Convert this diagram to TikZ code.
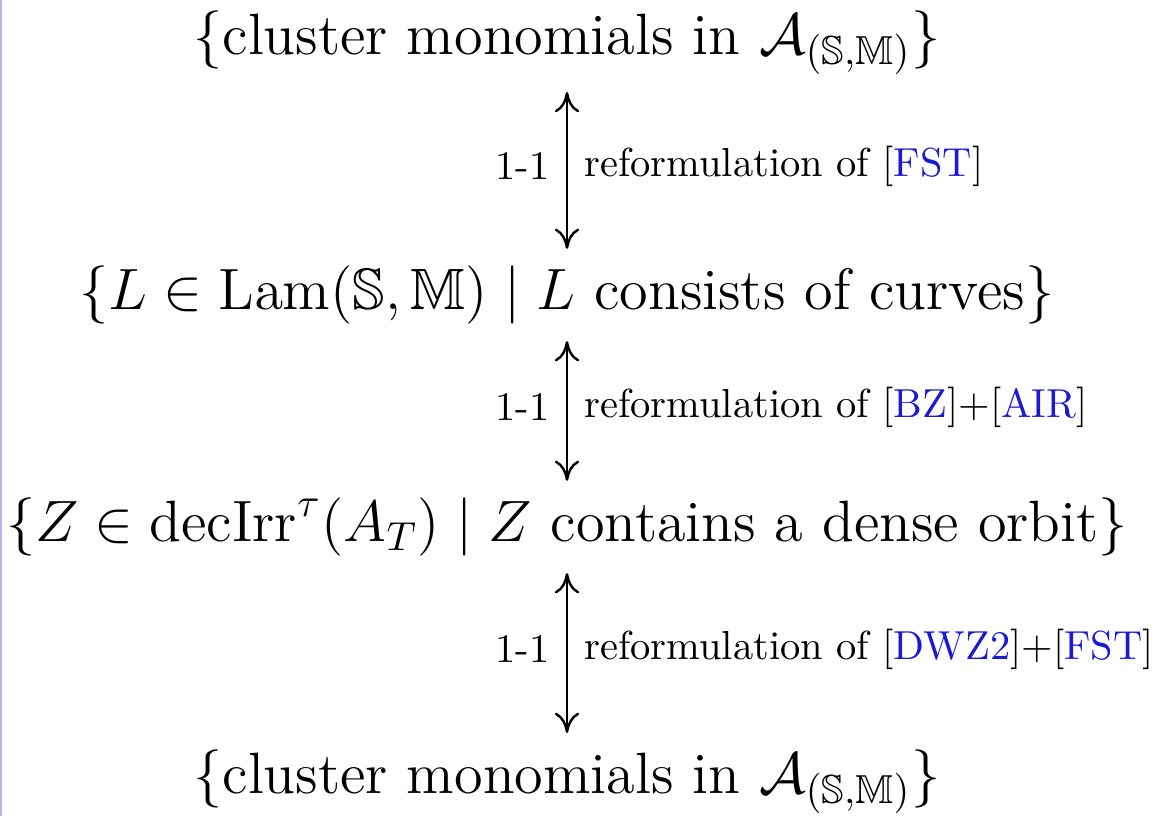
\documentclass[tikz,border=0pt]{standalone}
\usepackage{amsmath}
\usepackage{amssymb}
\usetikzlibrary{arrows.meta, positioning}
\definecolor{citeblue}{rgb}{0.1,0.1,0.84}
\definecolor{edgeblue}{HTML}{B4B4F2}
\newcommand{\cit}[1]{[{\color{citeblue}#1}]}
\newcommand{\SM}{(\mathbb{S},\mathbb{M})}

\begin{document}
\begin{tikzpicture}[x=0.247pt, y=-0.247pt, >={To[length=5pt, width=6pt]}]
  \tikzset{
    setnode/.style={font=\Large, inner sep=0pt},
    corresp/.style={<->, semithick, shorten <=4pt, shorten >=4pt},
    bij/.style={left, inner sep=4pt, yshift=1pt},
    why/.style={right, inner sep=4pt, yshift=1pt}
  }
  \useasboundingbox (0,0) rectangle (1162,816);
  \fill[edgeblue] (0,0) rectangle (2,816);
  % die vier Mengen
  \node[setnode] (clusA) at (567,43) {$\{\text{cluster monomials in } \mathcal{A}_{\SM}\}$};
  \node[setnode] (lam) at (567,295) {$\{L\in\operatorname{Lam}\SM \mid L \text{ consists of curves}\}$};
  \node[setnode] (irr) at (567,527) {$\{Z\in\operatorname{decIrr}^{\tau}(A_T) \mid Z \text{ contains a dense orbit}\}$};
  \node[setnode] (clusB) at (567,782) {$\{\text{cluster monomials in } \mathcal{A}_{\SM}\}$};
  % Bijektionen
  \draw[corresp] (clusA) -- (lam)
    node[midway, bij] {1-1} node[midway, why] {reformulation of \cit{FST}};
  \draw[corresp] (lam) -- (irr)
    node[midway, bij] {1-1} node[midway, why] {reformulation of \cit{BZ}+\cit{AIR}};
  \draw[corresp] (irr) -- (clusB)
    node[midway, bij] {1-1} node[midway, why] {reformulation of \cit{DWZ2}+\cit{FST}};
\end{tikzpicture}
\end{document}
